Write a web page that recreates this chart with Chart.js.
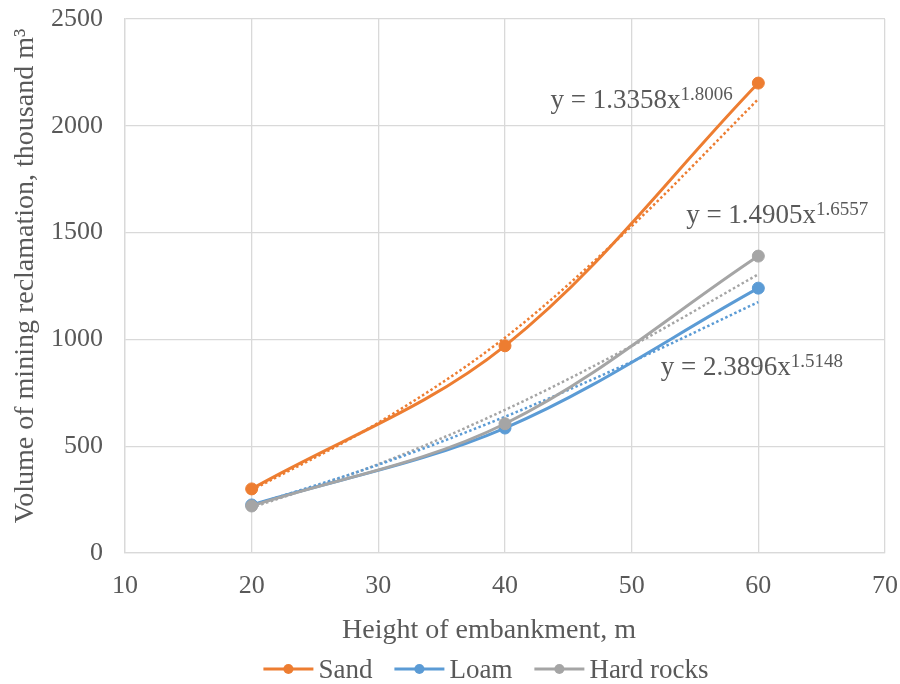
<!DOCTYPE html>
<html>
<head>
<meta charset="utf-8">
<script src="https://cdn.jsdelivr.net/npm/chart.js@4/dist/chart.umd.min.js"></script>
<style>
  html, body { margin: 0; padding: 0; background: #ffffff; }
  canvas { display: block; }
</style>
</head>
<body>
<canvas id="c" width="900" height="684"></canvas>
<script>
// ---- data ----
const heights = [20, 40, 60];
const sand = [300, 970, 2200];
const loam = [225, 585, 1240];
const hardRocks = [220, 605, 1390];

// dotted power trendlines
const trendX = [20, 30, 40, 50, 60];
const sandTrend = [294, 610, 1008, 1530, 2125];
const loamTrend = [223, 413, 638, 895, 1175];
const hardTrend = [212, 416, 670, 969, 1305];

const seriesNames = ['Sand', 'Loam', 'Hard rocks'];
const equations = [
  { base: 'y = 1.3358x', exp: '1.8006' },
  { base: 'y = 1.4905x', exp: '1.6557' },
  { base: 'y = 2.3896x', exp: '1.5148' }
];
const xTicks = [10, 20, 30, 40, 50, 60, 70];
const yTicks = [0, 500, 1000, 1500, 2000, 2500];
const xTitle = 'Height of embankment, m';
const yTitle = 'Volume of mining reclamation, thousand m\u00B3';

const colors = ['#ED7D31', '#5B9BD5', '#A5A5A5'];
const TEXT = '#595959';
const FONT = '"Liberation Serif", "Times New Roman", serif';

function pts(xs, ys) { return xs.map((x, i) => ({ x: x, y: ys[i] })); }

const mainSets = [sand, loam, hardRocks].map((vals, i) => ({
  label: seriesNames[i],
  data: pts(heights, vals),
  borderColor: colors[i],
  backgroundColor: colors[i],
  borderWidth: 3,
  pointRadius: 6,
  pointBorderWidth: 1,
  pointBackgroundColor: colors[i],
  pointBorderColor: colors[i],
  tension: 0.35,
  order: 3 - i
}));
const trendSets = [sandTrend, loamTrend, hardTrend].map((vals, i) => ({
  label: seriesNames[i] + ' trend',
  data: pts(trendX, vals),
  borderColor: colors[i],
  borderWidth: 2.5,
  borderDash: [2.5, 2.5],
  pointRadius: 0,
  cubicInterpolationMode: 'monotone',
  order: 10 + i
}));

// equation label anchors in data units (x, y of text start / baseline)
const eqAnchors = [
  { x: 43.6, y: 2083 },
  { x: 54.3, y: 1545 },
  { x: 52.3, y: 835 }
];

const textPlugin = {
  id: 'texts',
  afterDraw(chart) {
    const ctx = chart.ctx;
    const xs = chart.scales.x, ys = chart.scales.y;
    ctx.save();
    ctx.fillStyle = TEXT;

    // equations
    equations.forEach((eq, i) => {
      const px = xs.getPixelForValue(eqAnchors[i].x);
      const py = ys.getPixelForValue(eqAnchors[i].y);
      ctx.font = '27px ' + FONT;
      ctx.textAlign = 'left';
      ctx.textBaseline = 'alphabetic';
      ctx.fillText(eq.base, px, py);
      const w = ctx.measureText(eq.base).width;
      ctx.font = '19px ' + FONT;
      ctx.fillText(eq.exp, px + w, py - 8);
    });

    // y axis title
    ctx.save();
    ctx.translate(26, 276);
    ctx.rotate(-Math.PI / 2);
    ctx.font = '28px ' + FONT;
    ctx.textAlign = 'center';
    ctx.textBaseline = 'middle';
    ctx.fillText(yTitle, 0, 0);
    ctx.restore();

    // x axis title
    ctx.font = '28px ' + FONT;
    ctx.textAlign = 'center';
    ctx.textBaseline = 'alphabetic';
    ctx.fillText(xTitle, 489, 638);

    // legend
    ctx.font = '27px ' + FONT;
    const lineLen = 50, gap = 5, spacing = 22;
    const widths = seriesNames.map(n => lineLen + gap + ctx.measureText(n).width);
    const total = widths.reduce((a, b) => a + b, 0) + spacing * (seriesNames.length - 1);
    let lx = 486 - total / 2;
    const ly = 669;
    seriesNames.forEach((n, i) => {
      ctx.strokeStyle = colors[i];
      ctx.lineWidth = 3;
      ctx.beginPath();
      ctx.moveTo(lx, ly);
      ctx.lineTo(lx + lineLen, ly);
      ctx.stroke();
      ctx.fillStyle = colors[i];
      ctx.beginPath();
      ctx.arc(lx + lineLen / 2, ly, 5, 0, Math.PI * 2);
      ctx.fill();
      ctx.fillStyle = TEXT;
      ctx.textAlign = 'left';
      ctx.textBaseline = 'alphabetic';
      ctx.fillText(n, lx + lineLen + gap, 678);
      lx += widths[i] + spacing;
    });
    ctx.restore();
  }
};

new Chart(document.getElementById('c'), {
  type: 'line',
  data: { datasets: [...mainSets, ...trendSets] },
  options: {
    responsive: false,
    animation: false,
    devicePixelRatio: 1,
    layout: { padding: { left: 0, right: 15, top: 19, bottom: 0 } },
    plugins: {
      legend: { display: false },
      tooltip: { enabled: false }
    },
    scales: {
      x: {
        type: 'linear',
        min: xTicks[0],
        max: xTicks[xTicks.length - 1],
        afterBuildTicks: s => { s.ticks = xTicks.map(v => ({ value: v })); },
        afterFit: s => { s.height = 131; s.paddingLeft = 0; s.paddingRight = 0; },
        grid: { color: '#d9d9d9', lineWidth: 1.3, drawTicks: false },
        border: { color: '#d9d9d9', width: 1.3 },
        ticks: { color: TEXT, font: { family: FONT, size: 26 }, padding: 18, maxRotation: 0,
                 callback: v => String(v) }
      },
      y: {
        type: 'linear',
        min: yTicks[0],
        max: yTicks[yTicks.length - 1],
        afterBuildTicks: s => { s.ticks = yTicks.map(v => ({ value: v })); },
        afterFit: s => { s.width = 125; s.paddingTop = 0; s.paddingBottom = 0; },
        grid: { color: '#d9d9d9', lineWidth: 1.3, drawTicks: false },
        border: { color: '#d9d9d9', width: 1.3 },
        ticks: { color: TEXT, font: { family: FONT, size: 26 }, padding: 22,
                 callback: v => String(v) }
      }
    }
  },
  plugins: [textPlugin]
});
</script>
</body>
</html>
